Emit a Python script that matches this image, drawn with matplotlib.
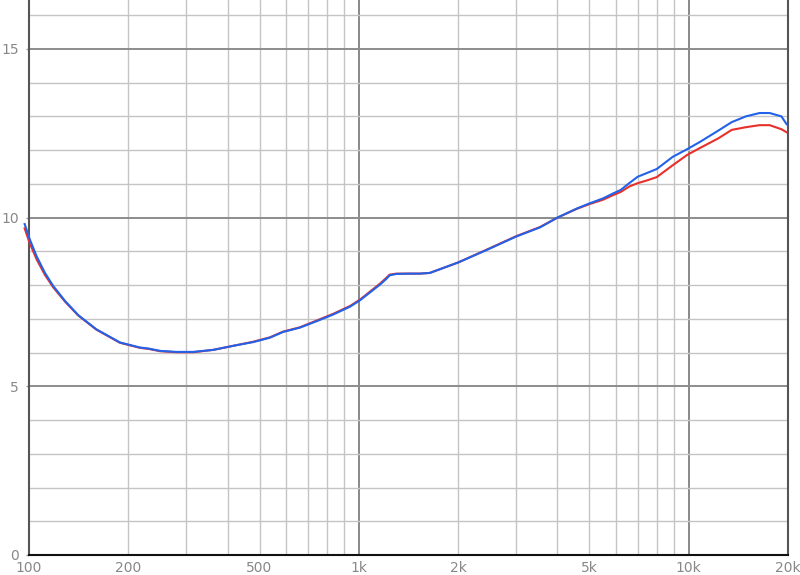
import numpy as np
import matplotlib.pyplot as plt
from matplotlib.ticker import FixedLocator, NullFormatter

# frequency points (Hz)
freq = [97, 100.7, 105.5, 111.8, 118.5, 128.6, 141, 160, 188.7, 216.9, 230,
        249.7, 280, 314.8, 362, 416, 478, 537, 589, 663, 745, 837, 940, 1008,
        1161, 1210, 1240, 1300, 1420, 1530, 1640, 1760, 2000, 2440, 3000, 3540,
        4000, 4580, 5000, 5500, 5880, 6220, 6600, 7000, 7460, 8000, 8940, 9900,
        10800, 12300, 13500, 14900, 16400, 17600, 19100, 19800]

# blue series
blue = [9.81, 9.34, 8.85, 8.36, 7.97, 7.53, 7.11, 6.69, 6.30, 6.15, 6.12,
        6.05, 6.02, 6.02, 6.08, 6.20, 6.31, 6.44, 6.61, 6.74, 6.93, 7.13, 7.36, 7.55,
        8.02, 8.18, 8.29, 8.33, 8.34, 8.34, 8.36, 8.47, 8.67, 9.04, 9.44, 9.71,
        10.00, 10.27, 10.42, 10.57, 10.71, 10.82, 11.02, 11.21, 11.32, 11.44, 11.80, 12.03,
        12.24, 12.58, 12.83, 13.00, 13.10, 13.10, 13.00, 12.77]

# red series
red = [9.68, 9.22, 8.76, 8.30, 7.93, 7.51, 7.10, 6.68, 6.29, 6.14, 6.11,
       6.04, 6.01, 6.01, 6.08, 6.20, 6.32, 6.45, 6.62, 6.75, 6.95, 7.15, 7.38, 7.57,
       8.05, 8.21, 8.31, 8.34, 8.34, 8.34, 8.36, 8.47, 8.67, 9.05, 9.45, 9.72,
       10.00, 10.26, 10.40, 10.53, 10.66, 10.76, 10.92, 11.02, 11.10, 11.20, 11.55, 11.86,
       12.06, 12.35, 12.60, 12.68, 12.74, 12.74, 12.62, 12.53]

xticks = [100, 200, 500, 1000, 2000, 5000, 10000, 20000]
xlabels = ["100", "200", "500", "1k", "2k", "5k", "10k", "20k"]
yticks = [0, 5, 10, 15]

fig = plt.figure(figsize=(8, 5.75), dpi=100)
ax = fig.add_axes([29 / 800, 20 / 575, (788 - 29) / 800, 555 / 575])
ax.set_xscale("log")
ax.set_xlim(100, 20000)
ax.set_ylim(0, 16.45)

# grid
minor_x = [m * 10 ** e for e in (2, 3, 4) for m in range(1, 10) if m * 10 ** e <= 20000]
for f in minor_x:
    major = f in (100, 1000, 10000)
    ax.axvline(f, color="#888888" if major else "#c4c4c4",
               lw=1.4 if major else 1.0, zorder=0)
for v in range(1, 17):
    major = v % 5 == 0
    ax.axhline(v, color="#8c8c8c" if major else "#c4c4c4",
               lw=1.4 if major else 1.0, zorder=0)

ax.plot(freq, red, color="#e8302a", lw=1.5, zorder=3, clip_on=False)
ax.plot(freq, blue, color="#2262ea", lw=1.5, zorder=4, clip_on=False)

ax.xaxis.set_major_locator(FixedLocator(xticks))
ax.set_xticklabels(xlabels)
ax.xaxis.set_minor_formatter(NullFormatter())
ax.xaxis.set_minor_locator(FixedLocator([]))
ax.set_yticks(yticks)
ax.tick_params(axis="x", length=0, pad=4, labelsize=10, labelcolor="#888888")
ax.tick_params(axis="y", length=2, width=1, color="#999999", pad=5.5,
               labelsize=10, labelcolor="#888888")

for s in ("left", "right"):
    ax.spines[s].set_color("#555555")
    ax.spines[s].set_linewidth(1.5)
ax.spines["bottom"].set_color("#111111")
ax.spines["bottom"].set_linewidth(1.5)
ax.spines["top"].set_visible(False)

fig.savefig("out.png", dpi=100)
